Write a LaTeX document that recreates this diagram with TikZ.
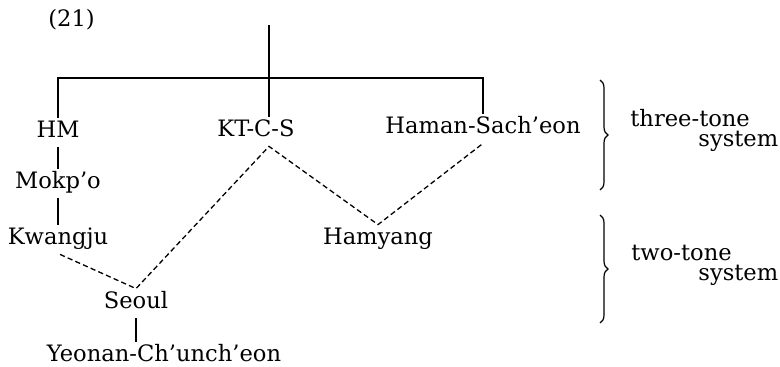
\documentclass[tikz,border=0pt]{standalone}
\usepackage{fontspec}
\setmainfont{DejaVu Serif}
\usepackage{tikz}
\usetikzlibrary{positioning, decorations.pathreplacing}
\tikzset{
    dialect/.style={inner sep=2pt, text height=8pt, text depth=2.5pt, anchor=base, font=\fontsize{11.3}{13}\selectfont},
    sidetext/.style={inner sep=0pt, anchor=base west, font=\fontsize{11.3}{13}\selectfont},
    branch/.style={line width=1.1pt},
    link/.style={line width=0.65pt, dash pattern=on 2.6pt off 1.6pt},
    tonebrace/.style={decorate, decoration={brace, amplitude=4pt}, line width=0.6pt}
}

\begin{document}
\begin{tikzpicture}[x=0.5pt, y=-0.5pt]
    \useasboundingbox (0,0) rectangle (780,367);
    \node[sidetext] (num) at (48,27) {(21)};
    % three-tone dialects
    \node[dialect] (hm) at (58,138) {HM};
    \node[dialect] (kt) at (256,137) {KT-C-S};
    \node[dialect] (haman) at (483,134) {Haman-Sach’eon};
    % two-tone dialects
    \node[dialect] (mokpo) at (58,189) {Mokp’o};
    \node[dialect] (kwangju) at (58,245) {Kwangju};
    \node[dialect] (hamyang) at (378,245) {Hamyang};
    \node[dialect] (seoul) at (136,309) {Seoul};
    \node[dialect] (yeonan) at (164,362) {Yeonan-Ch’unch’eon};

    \coordinate (root) at (269,25);
    \coordinate (fork) at (269,78);
    \draw[branch] (root) -- ([xshift=6.5pt]kt.north);
    \draw[branch] (hm.north) |- (fork) -| (haman.north);
    \draw[branch] (hm.south) -- (mokpo.north);
    \draw[branch] (mokpo.south) -- (kwangju.north);
    \draw[branch] (seoul.south) -- (seoul.south |- yeonan.north);

    \draw[link] ([xshift=1pt]kwangju.south) -- (seoul.north) -- ([xshift=6.5pt]kt.south) -- (hamyang.north) -- (haman.south);

    % tone systems
    \coordinate (threetop) at (600,80);
    \coordinate (threebot) at (600,190);
    \coordinate (twotop) at (600,215);
    \coordinate (twobot) at (600,323);
    \draw[tonebrace] (threetop) -- (threebot);
    \draw[tonebrace] (twotop) -- (twobot);
    \node[sidetext] (three) at (630,127) {three-tone};
    \node[sidetext] (threesys) at (698,147) {system};
    \node[sidetext] (two) at (631,261) {two-tone};
    \node[sidetext] (twosys) at (698,281) {system};
\end{tikzpicture}
\end{document}
